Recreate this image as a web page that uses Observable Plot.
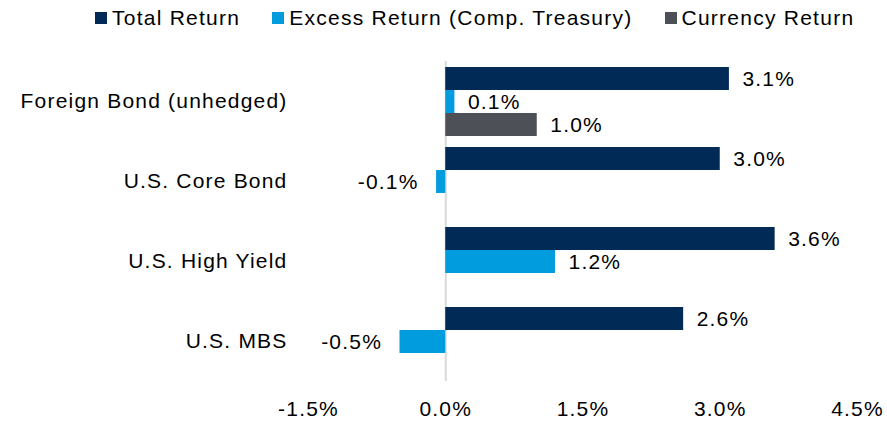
<!DOCTYPE html>
<html>
<head>
<meta charset="utf-8">
<script src="https://cdn.jsdelivr.net/npm/d3@7"></script>
<script src="https://cdn.jsdelivr.net/npm/@observablehq/plot@0.6"></script>
<style>
  html, body { margin: 0; padding: 0; background: #fff; }
  body { width: 887px; height: 421px; overflow: hidden; font-family: "Liberation Sans", Arial, sans-serif; }
  #legend { height: 36px; display: flex; align-items: center; padding-left: 95px; gap: 32px; font-size: 21px; letter-spacing: 1.25px; color: #000; }
  #legend .item { display: flex; align-items: center; white-space: nowrap; }
  #legend .sw { width: 12px; height: 12px; margin-right: 5px; display: inline-block; }
  #chart svg text { letter-spacing: 1.2px; }
</style>
</head>
<body>
<div id="legend"></div>
<div id="chart"></div>
<script>
const categories = ["Foreign Bond (unhedged)", "U.S. Core Bond", "U.S. High Yield", "U.S. MBS"];
const series = ["Total Return", "Excess Return (Comp. Treasury)", "Currency Return"];
const colors = ["#012a56", "#009cde", "#4d5056"];
const totalReturn = [3.1, 3.0, 3.6, 2.6];
const excessReturn = [0.1, -0.1, 1.2, -0.5];
const currencyReturn = [1.0, null, null, null];
const xTicks = [-1.5, 0, 1.5, 3.0, 4.5];

const seriesValues = [totalReturn, excessReturn, currencyReturn];
const rows = [];
categories.forEach((c, i) => {
  series.forEach((s, j) => {
    const v = seriesValues[j][i];
    if (v !== null && v !== undefined) rows.push({category: c, series: s, value: v});
  });
});

// legend
const legend = document.getElementById("legend");
series.forEach((s, j) => {
  const item = document.createElement("div");
  item.className = "item";
  const sw = document.createElement("span");
  sw.className = "sw";
  sw.style.background = colors[j];
  item.appendChild(sw);
  item.appendChild(document.createTextNode(s));
  legend.appendChild(item);
});

const fmt = d => d.toFixed(1) + "%";

const chart = Plot.plot({
  width: 887,
  height: 385,
  marginLeft: 308,
  marginRight: 30,
  marginTop: 24,
  marginBottom: 39,
  style: {fontFamily: "'Liberation Sans', Arial, sans-serif", fontSize: "21px", color: "#000", background: "#fff"},
  facet: {data: rows, y: "category"},
  fy: {domain: categories, padding: 0, label: null, axis: "left", tickSize: 0, tickPadding: 21},
  y: {domain: series, paddingInner: 0, paddingOuter: 0.213, axis: null},
  x: {domain: [-1.5, 4.5], ticks: xTicks, tickFormat: fmt, tickSize: 0, tickPadding: 20, label: null, line: false},
  color: {domain: series, range: colors},
  marks: [
    Plot.ruleX([0], {stroke: "#d9d9d9", strokeWidth: 2}),
    Plot.barX(rows, {x: "value", y: "series", fill: "series"}),
    Plot.text(rows, {filter: d => d.value >= 0, x: "value", y: "series", text: d => fmt(d.value), textAnchor: "start", dx: 13, fill: "#000", fontSize: 21}),
    Plot.text(rows, {filter: d => d.value < 0, x: "value", y: "series", text: d => fmt(d.value), textAnchor: "end", dx: -18, fill: "#000", fontSize: 21})
  ]
});
document.getElementById("chart").appendChild(chart);
</script>
</body>
</html>
